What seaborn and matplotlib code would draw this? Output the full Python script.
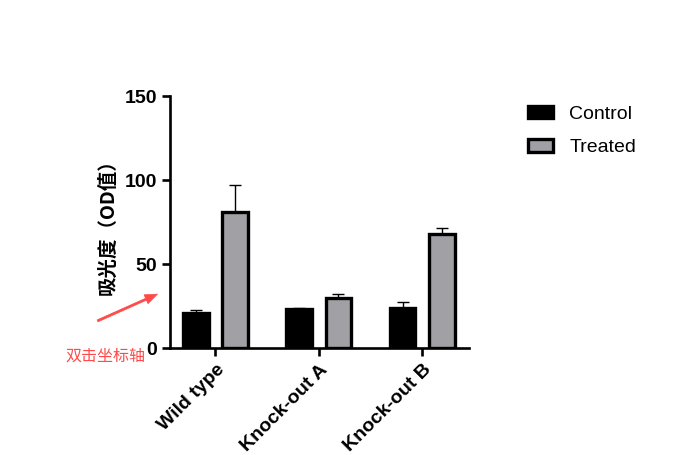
import pandas as pd
import seaborn as sns
import matplotlib.pyplot as plt
from matplotlib.patches import Patch

# values
groups = ['Wild type', 'Knock-out A', 'Knock-out B']
conditions = ['Control', 'Treated']
control_mean = [20.7, 23.4, 23.8]
treated_mean = [80.8, 30.0, 68.0]
control_err = [2.1, 0.6, 3.8]
treated_err = [16.0, 2.1, 3.2]

gray = '#a09fa6'
red = '#ff4a4a'

df = pd.DataFrame({
    'group': groups * 2,
    'condition': ['Control'] * 3 + ['Treated'] * 3,
    'value': control_mean + treated_mean,
})

sns.set_style('ticks', {'axes.edgecolor': 'black', 'text.color': 'black',
                        'xtick.color': 'black', 'ytick.color': 'black',
                        'axes.labelcolor': 'black'})
plt.rcParams['font.family'] = ['Liberation Sans', 'DejaVu Sans']

fig = plt.figure(figsize=(6.8, 4.55), dpi=100)
ax = fig.add_axes([0.25, 0.235, 0.44, 0.554])

sns.barplot(data=df, x='group', y='value', hue='condition', order=groups,
            hue_order=conditions, palette=['black', gray], width=0.76, gap=0.34,
            edgecolor='black', linewidth=2.4, errorbar=None, legend=False, ax=ax)

# upward-only error bars
errs = control_err + treated_err
for bar, e in zip(ax.patches, errs):
    xc = bar.get_x() + bar.get_width() / 2
    top = bar.get_height()
    ax.errorbar(xc, top, yerr=[[0], [e]], fmt='none', ecolor='black',
                elinewidth=1, capsize=4, capthick=1, zorder=1)

ax.set_ylim(0, 150)
ax.set_yticks([0, 50, 100, 150])
ax.set_xlim(-0.44, 2.455)
sns.despine(ax=ax)
for s in ['left', 'bottom']:
    ax.spines[s].set_linewidth(1.9)
ax.tick_params(width=1.9, length=6, colors='black')

ax.set_xlabel('')
ax.set_ylabel('吸光度（OD值）', family=['Noto Sans CJK SC', 'DejaVu Sans'],
              fontsize=14, fontweight='bold', labelpad=5, color='black')
for lab in ax.get_yticklabels():
    lab.set_fontsize(14)
    lab.set_fontweight('bold')
ax.set_xticks(range(len(groups)))
ax.set_xticklabels(groups, rotation=45, ha='right', rotation_mode='anchor',
                   fontsize=14, fontweight='bold')

handles = [Patch(facecolor='black', edgecolor='black', linewidth=2.4),
           Patch(facecolor=gray, edgecolor='black', linewidth=2.4)]
fig.legend(handles, conditions, loc='upper left', bbox_to_anchor=(0.75, 0.806),
           frameon=False, fontsize=14, handlelength=1.3, handleheight=0.6,
           labelspacing=0.85, handletextpad=0.85)

# red hint annotation
fig.text(105 / 680, 1 - 356 / 455, '双击坐标轴', color=red, fontsize=11.5,
         family=['Noto Sans CJK SC', 'DejaVu Sans'], ha='center', va='center')
ax.annotate('', xy=(160 / 680, 1 - 293 / 455), xytext=(95 / 680, 1 - 322 / 455),
            xycoords='figure fraction', textcoords='figure fraction',
            arrowprops=dict(arrowstyle='simple,head_length=0.9,head_width=0.7,tail_width=0.15',
                            color=red, lw=0.5))

fig.savefig('out.png', dpi=100)
